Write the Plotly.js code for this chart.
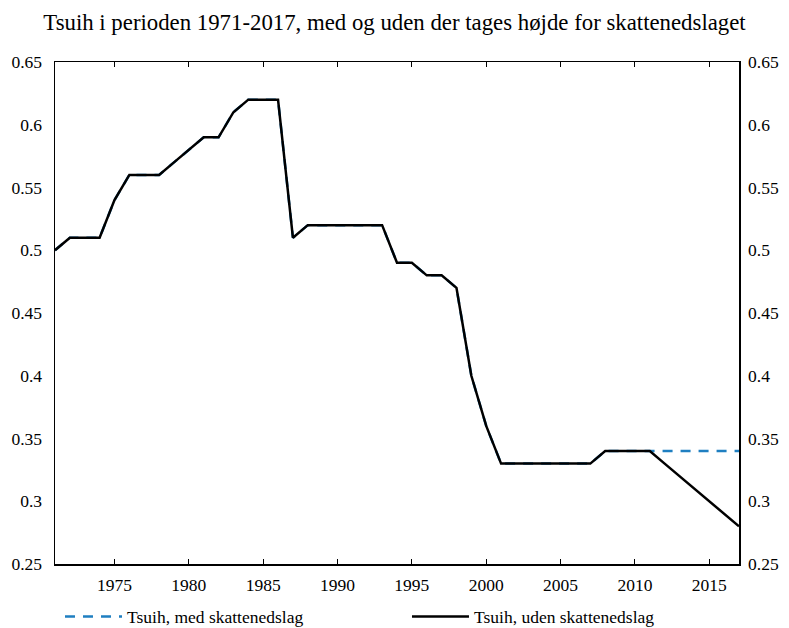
<!DOCTYPE html>
<html><head><meta charset="utf-8">
<script src="https://cdn.plot.ly/plotly-3.0.1.min.js"></script>
<style>html,body{margin:0;padding:0;background:#fff}</style>
</head><body>
<div id="chart" style="width:789px;height:628px"></div>
<script>
const years = [1971,1972,1973,1974,1975,1976,1977,1978,1979,1980,1981,1982,1983,1984,1985,1986,1987,1988,1989,1990,1991,1992,1993,1994,1995,1996,1997,1998,1999,2000,2001,2002,2003,2004,2005,2006,2007,2008,2009,2010,2011,2012,2013,2014,2015,2016,2017];
const medSkat = [0.50,0.51,0.51,0.51,0.54,0.56,0.56,0.56,0.57,0.58,0.59,0.59,0.61,0.62,0.62,0.62,0.51,0.52,0.52,0.52,0.52,0.52,0.52,0.49,0.49,0.48,0.48,0.47,0.40,0.36,0.33,0.33,0.33,0.33,0.33,0.33,0.33,0.34,0.34,0.34,0.34,0.34,0.34,0.34,0.34,0.34,0.34];
const udenSkat = [0.50,0.51,0.51,0.51,0.54,0.56,0.56,0.56,0.57,0.58,0.59,0.59,0.61,0.62,0.62,0.62,0.51,0.52,0.52,0.52,0.52,0.52,0.52,0.49,0.49,0.48,0.48,0.47,0.40,0.36,0.33,0.33,0.33,0.33,0.33,0.33,0.33,0.34,0.34,0.34,0.34,0.33,0.32,0.31,0.30,0.29,0.28];
const xTicks = [1975,1980,1985,1990,1995,2000,2005,2010,2015];
const yTicks = [0.25,0.3,0.35,0.4,0.45,0.5,0.55,0.6,0.65];
const yTickText = ['0.25','0.3','0.35','0.4','0.45','0.5','0.55','0.6','0.65'];

const font = 'Liberation Serif';
const traces = [
  {x: years, y: medSkat, name: 'Tsuih, med skattenedslag', type: 'scatter', mode: 'lines',
   line: {color: '#1f7fc1', width: 2.5, dash: '10px,8px'}, legend: 'legend'},
  {x: years, y: udenSkat, name: 'Tsuih, uden skattenedslag', type: 'scatter', mode: 'lines',
   line: {color: '#000000', width: 2.5}, legend: 'legend2'},
  {x: years, y: udenSkat, yaxis: 'y2', showlegend: false, hoverinfo: 'skip', type: 'scatter', mode: 'lines',
   line: {color: 'rgba(0,0,0,0)', width: 0}}
];
const tf = {family: font, size: 17.5, color: '#000'};
const lg = {orientation: 'h', xanchor: 'left', y: -0.069, yanchor: 'top',
            font: {family: font, size: 17.5, color: '#000'}, bgcolor: 'rgba(0,0,0,0)', itemwidth: 57};
const layout = {
  width: 789, height: 628,
  margin: {l: 55, r: 50, t: 62, b: 64, autoexpand: false},
  paper_bgcolor: '#fff', plot_bgcolor: '#fff',
  font: {family: font, color: '#000', size: 17.5},
  title: {text: 'Tsuih i perioden 1971-2017, med og uden der tages højde for skattenedslaget',
          font: {family: font, size: 22.8, color: '#000'}, x: 0.5, xanchor: 'center', y: 0.965, yanchor: 'middle'},
  xaxis: {range: [1971, 2017], tickvals: xTicks, ticks: 'inside', ticklen: 5, tickcolor: '#000',
          showline: true, linecolor: '#000', linewidth: 1.5, mirror: 'ticks', showgrid: false, zeroline: false,
          tickfont: tf, ticklabelstandoff: 4},
  yaxis: {range: [0.25, 0.65], tickvals: yTicks, ticktext: yTickText, ticks: '', showline: true,
          linecolor: '#000', linewidth: 1.5, mirror: true, showgrid: false, zeroline: false,
          tickfont: tf, ticklabelstandoff: 8},
  yaxis2: {range: [0.25, 0.65], tickvals: yTicks, ticktext: yTickText, overlaying: 'y', side: 'right',
           ticks: '', showline: false, showgrid: false, zeroline: false, tickfont: tf, ticklabelstandoff: 8},
  showlegend: true,
  legend: Object.assign({}, lg, {x: 0.0073}),
  legend2: Object.assign({}, lg, {x: 0.5146})
};
Plotly.newPlot('chart', traces, layout, {displayModeBar: false, staticPlot: true});
</script>
</body></html>
